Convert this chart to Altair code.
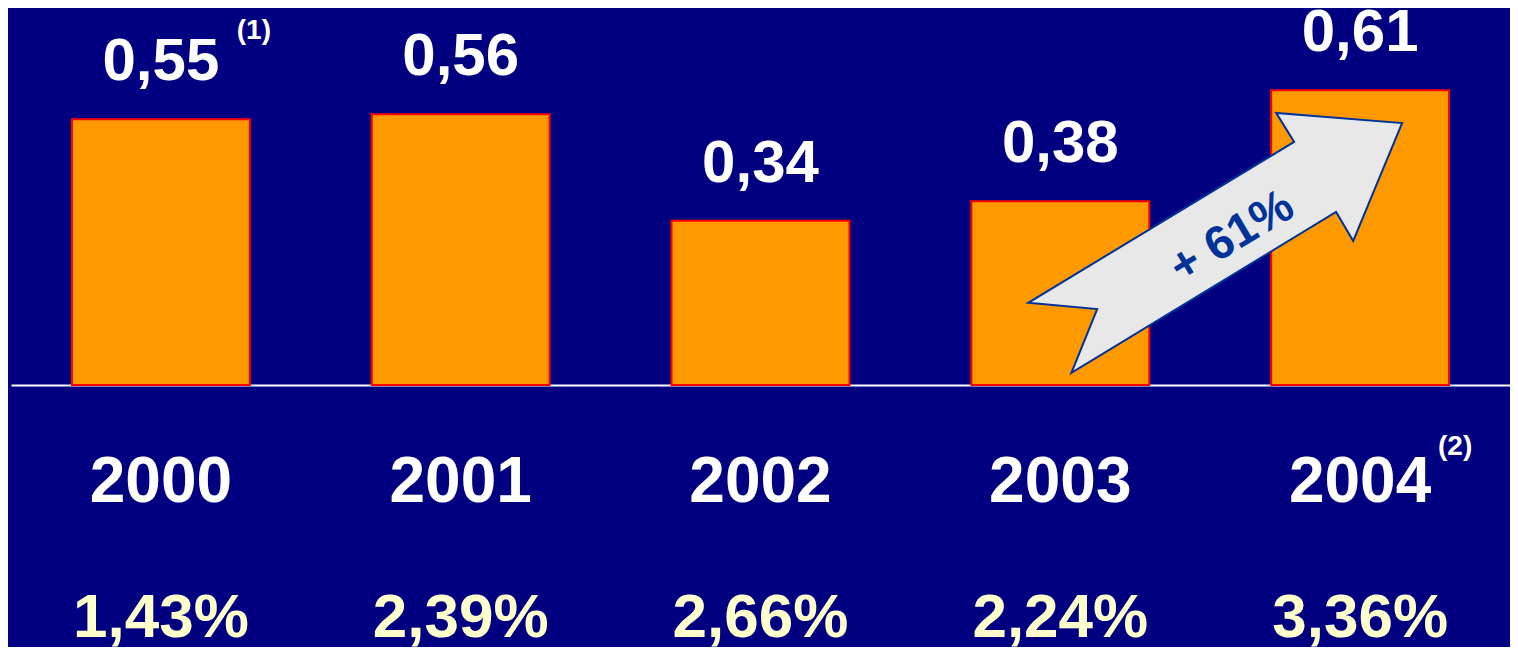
import altair as alt
import pandas as pd

years = ["2000", "2001", "2002", "2003", "2004"]
values = [0.55, 0.56, 0.34, 0.38, 0.61]
value_labels = ["0,55", "0,56", "0,34", "0,38", "0,61"]
pct_labels = ["1,43%", "2,39%", "2,66%", "2,24%", "3,36%"]

# arrow annotation polygon (x in category-index units, y in value units)
arrow_x = [2.893, 3.123, 3.037, 3.920, 3.977, 4.140, 3.720, 3.780]
arrow_y = [0.170, 0.157, 0.025, 0.358, 0.298, 0.542, 0.563, 0.503]
arrow_text = "+ 61%"
arrow_text_pos = (3.573, 0.306)

df = pd.DataFrame({"year": years, "value": values, "label": value_labels, "pct": pct_labels})
arrow_df = pd.DataFrame({"i": list(range(len(arrow_x))), "x": arrow_x, "y": arrow_y})
arrow_lbl = pd.DataFrame({"x": [arrow_text_pos[0]], "y": [arrow_text_pos[1]], "t": [arrow_text]})

W, H = 1499, 377
FONT = "Liberation Sans"

xband = alt.X("year:N", sort=years,
              scale=alt.Scale(paddingInner=0.4067, paddingOuter=0.2033),
              axis=alt.Axis(title=None, labelAngle=0, ticks=False, grid=False,
                            domainColor="white", domainWidth=2,
                            labelColor="white", labelFont=FONT, labelFontSize=64,
                            labelFontWeight="bold", labelPadding=97,
                            labelBaseline="middle"))
yscale = alt.Scale(domain=[0, 0.78], nice=False, zero=True)
yenc = alt.Y("value:Q", scale=yscale, axis=None)

base = alt.Chart(df)

bars = base.mark_bar(color="#FF9900", stroke="#FF0000", strokeWidth=2).encode(x=xband, y=yenc)

vlabels = base.mark_text(font=FONT, fontSize=60, fontWeight="bold", color="white",
                         baseline="middle", dy=-57).encode(x=alt.X("year:N", sort=years), y=yenc, text="label:N")

pcts = base.mark_text(font=FONT, fontSize=62, fontWeight="bold", color="#FFFFCC",
                      baseline="middle").encode(x=alt.X("year:N", sort=years), y=alt.value(610), text="pct:N")

fn1 = alt.Chart(df[df.year == "2000"]).mark_text(
    font=FONT, fontSize=28, fontWeight="bold", color="white", baseline="middle",
    dx=93, dy=-88).encode(x=alt.X("year:N", sort=years), y=yenc, text=alt.value("(1)"))

fn2 = alt.Chart(df[df.year == "2004"]).mark_text(
    font=FONT, fontSize=28, fontWeight="bold", color="white", baseline="middle",
    dx=95).encode(x=alt.X("year:N", sort=years), y=alt.value(439), text=alt.value("(2)"))

main = alt.layer(bars, vlabels, pcts, fn1, fn2)

xq = alt.X("x:Q", scale=alt.Scale(domain=[-0.5, 4.5], nice=False, zero=False), axis=None)
arrow = alt.Chart(arrow_df).mark_line(
    interpolate="linear-closed", fill="#E8E8E8", stroke="#003399", strokeWidth=2
).encode(x=xq, y=alt.Y("y:Q", scale=yscale, axis=None), order="i:Q")

arrow_t = alt.Chart(arrow_lbl).mark_text(
    font=FONT, fontSize=47, fontWeight="bold", color="#003399", angle=329,
    baseline="middle", align="center"
).encode(x=xq, y=alt.Y("y:Q", scale=yscale, axis=None), text="t:N")

over = alt.layer(arrow, arrow_t)

chart = alt.layer(main, over).resolve_scale(x="independent").properties(
    width=W, height=H, background="#000080",
    padding={"left": 3, "top": 0, "right": 0, "bottom": 262},
    autosize=alt.AutoSizeParams(type="none"),
).configure_view(stroke=None)

chart.save("out.html", embed_options={"renderer": "svg", "actions": False})
